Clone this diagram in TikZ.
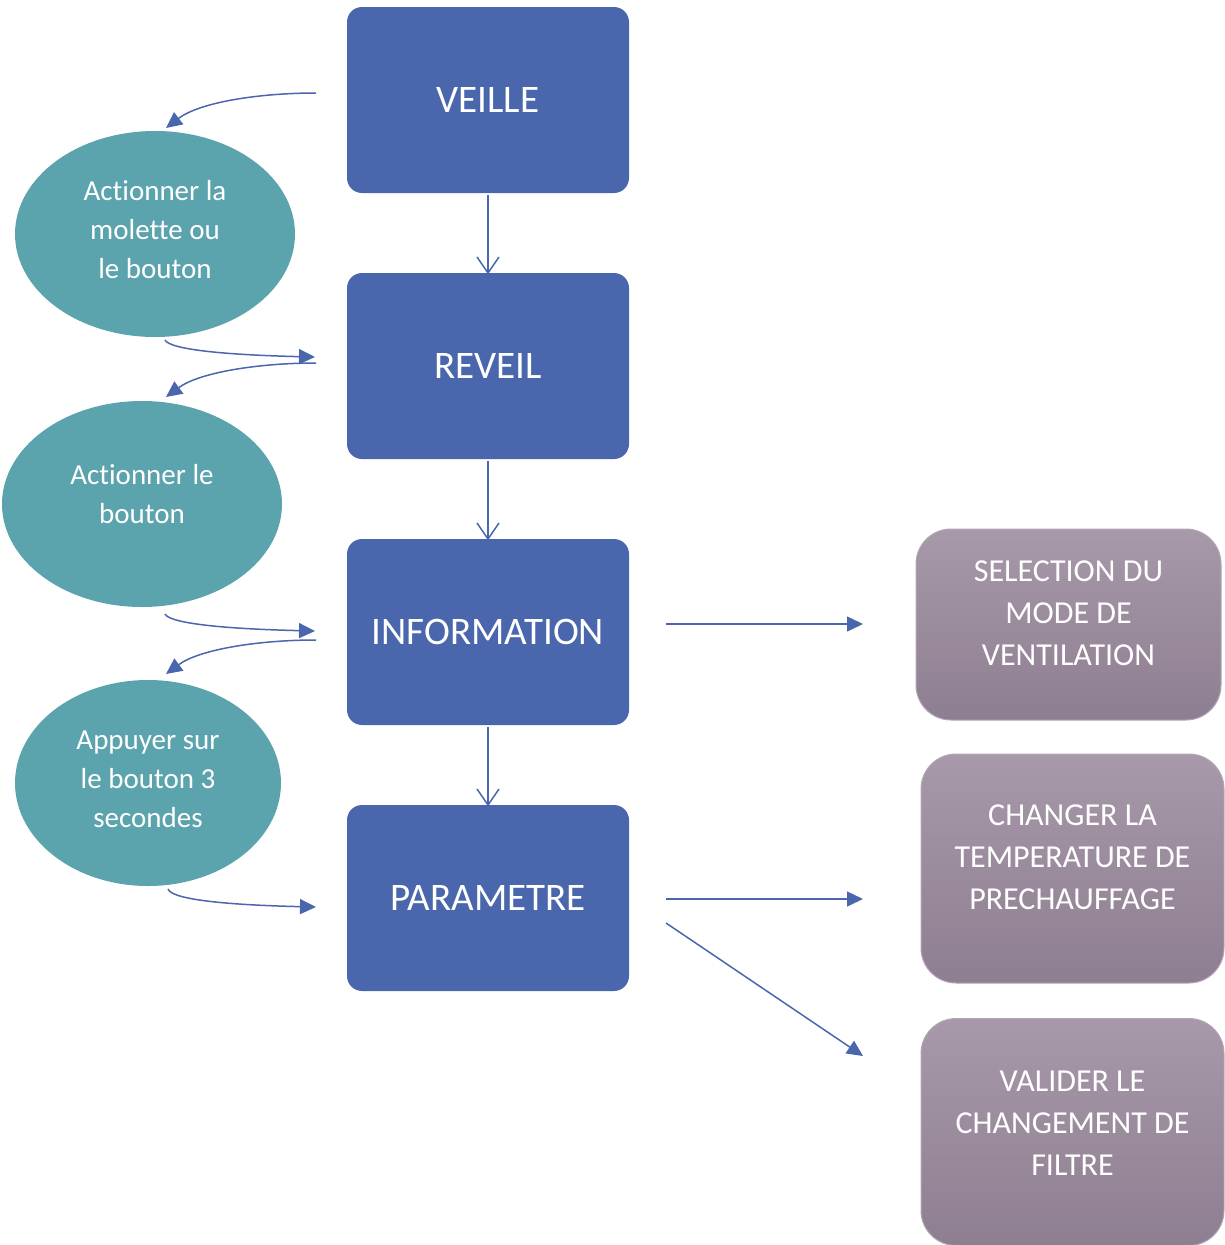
\documentclass[tikz,border=0pt]{standalone}
\usepackage{fontspec}
\setmainfont[Ligatures={NoCommon}]{Carlito}
\usetikzlibrary{shapes.geometric,arrows.meta}
\definecolor{bluebox}{HTML}{4A66AC}
\definecolor{tealell}{HTML}{5BA3AD}
\definecolor{purtop}{HTML}{A799A9}
\definecolor{purbot}{HTML}{8E7E91}
\definecolor{purline}{HTML}{B3A6B5}
\definecolor{arrowc}{HTML}{4A66AC}
\tikzset{
  mainbox/.style={draw=none, fill=bluebox, rounded corners=15pt, minimum width=282pt, minimum height=186pt, inner sep=0pt, text=white, font=\fontsize{39}{46}\selectfont},
  actell/.style={ellipse, fill=tealell, draw=none, inner sep=0pt, text=white, align=center, font=\fontsize{29}{39}\selectfont},
  elltext/.style={text=white, align=center, font=\fontsize{29}{39}\selectfont},
  purbox/.style={draw=purline, line width=1pt, top color=purtop, bottom color=purbot, rounded corners=35pt, inner sep=0pt},
  purtext/.style={text=white, align=center, font=\fontsize{32}{42}\selectfont},
  downarr/.style={draw=arrowc, line width=1.5pt, -{Straight Barb[length=16pt,width=22pt,line width=1.5pt]}},
  curvarr/.style={draw=arrowc, line width=1.5pt, -{Triangle[length=16pt,width=15pt]}},
}
\begin{document}
\begin{tikzpicture}[x=1pt,y=-1pt]
\useasboundingbox (0,0) rectangle (1224,1245);
% main boxes
\node[mainbox] (veille) at (488,100) {VEILLE};
\node[mainbox] (reveil) at (488,366) {REVEIL};
\node[mainbox] (info) at (488,632) {INFORMATION};
\node[mainbox] (param) at (488,898) {PARAMETRE};
% ellipses
\node[actell, minimum width=280pt, minimum height=206pt] (e1) at (155,234) {};
\node[actell, minimum width=280pt, minimum height=206pt] (e2) at (142,504) {};
\node[actell, minimum width=266pt, minimum height=206pt] (e3) at (148,783) {};
\node[elltext] (et1) at ([yshift=4pt]e1.center) {Actionner la\\molette ou\\le bouton};
\node[elltext] (et2) at ([yshift=10pt]e2.center) {Actionner le\\bouton};
\node[elltext] (et3) at ([yshift=4pt]e3.center) {Appuyer sur\\le bouton 3\\secondes};
% purple boxes
\node[purbox, minimum width=305pt, minimum height=191pt] (p1) at (1068.5,624.5) {};
\node[purbox, minimum width=303pt, minimum height=229pt] (p2) at (1072.5,868.5) {};
\node[purbox, minimum width=303pt, minimum height=227pt, anchor=north] (p3) at (1072.5,1018) {};
\node[purtext] (t1) at ([yshift=11pt]p1.center) {SELECTION DU\\MODE DE\\VENTILATION};
\node[purtext] (t2) at ([yshift=11pt]p2.center) {CHANGER LA\\TEMPERATURE DE\\PRECHAUFFAGE};
\node[purtext] (t3) at ([yshift=9pt]p3.center) {VALIDER LE\\CHANGEMENT DE\\FILTRE};
% vertical arrows
\draw[downarr] ([yshift=-2pt]veille.south) -- ([yshift=-1.5pt]reveil.north);
\draw[downarr] ([yshift=-2pt]reveil.south) -- ([yshift=-1.5pt]info.north);
\draw[downarr] ([yshift=-2pt]info.south) -- ([yshift=-1.5pt]param.north);
% curved arrows coordinates
\coordinate (c1s) at (316,93);
\coordinate (c1e) at (166,128);
\coordinate (c2s) at (165,340);
\coordinate (c2e) at (315,357);
\coordinate (c3s) at (316,363);
\coordinate (c3e) at (166,397);
\coordinate (c4s) at (165,614);
\coordinate (c4e) at (315,631);
\coordinate (c5s) at (316,640);
\coordinate (c5e) at (166,674);
\coordinate (c6s) at (168,889);
\coordinate (c6e) at (316,907);
\draw[curvarr] (c1s) .. controls (260,93) and (200,102) .. (c1e);
\draw[curvarr] (c2s) .. controls (170,350) and (230,355) .. (c2e);
\draw[curvarr] (c3s) .. controls (260,363) and (200,372) .. (c3e);
\draw[curvarr] (c4s) .. controls (170,624) and (230,629) .. (c4e);
\draw[curvarr] (c5s) .. controls (260,640) and (200,649) .. (c5e);
\draw[curvarr] (c6s) .. controls (172,900) and (230,905) .. (c6e);
% right arrows
\coordinate (h1s) at (666,624);
\coordinate (h1e) at (863,624);
\coordinate (h2s) at (666,899);
\coordinate (h2e) at (863,899);
\coordinate (h3s) at (666,923);
\coordinate (h3e) at (863,1056);
\draw[curvarr] (h1s) -- (h1e);
\draw[curvarr] (h2s) -- (h2e);
\draw[curvarr] (h3s) -- (h3e);
\end{tikzpicture}
\end{document}
